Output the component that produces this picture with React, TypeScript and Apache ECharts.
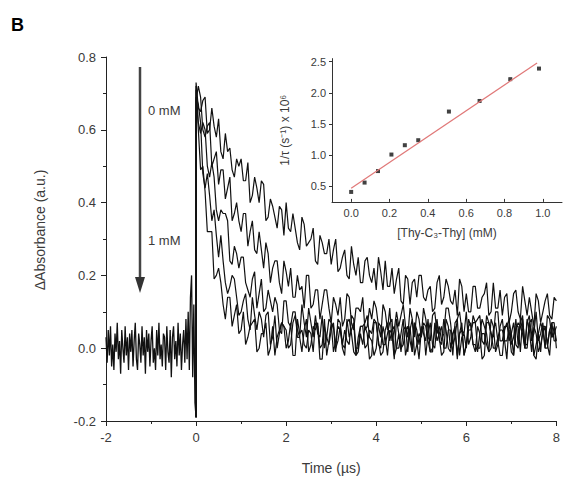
import React, { useEffect, useRef } from "react";
import * as echarts from "echarts";

// ---- main panel: transient absorption traces (time in µs) ----
const baseStart = -2.0;
const baseStep = 0.025;
const baseline = [
  0.03, -0.04, 0.05, -0.02, 0.06, -0.05, 0.01, -0.06, 0.04, -0.01,
  0.07, -0.03, 0.02, -0.07, 0.05, 0.0, -0.04, 0.06, -0.02, 0.03,
  -0.06, 0.04, -0.01, 0.05, -0.05, 0.02, 0.07, -0.03, -0.06, 0.04,
  0.01, -0.04, 0.06, -0.02, 0.03, -0.07, 0.05, -0.01, 0.04, -0.05,
  0.02, 0.06, -0.04, 0.0, -0.06, 0.05, -0.02, 0.07, -0.03, 0.01,
  -0.05, 0.04, 0.03, -0.06, 0.06, -0.01, -0.04, 0.05, -0.08, 0.03,
  0.06, -0.03, 0.02, -0.05, 0.07, -0.02, 0.04, -0.06, 0.01, 0.05,
  -0.04, 0.08, -0.03, 0.1, -0.06, 0.14, 0.2, -0.08, 0.12, -0.15,
  -0.19,
];

// samples at t = 0, 0.1, 0.2, ... 8.0
const traceStep = 0.1;
// samples at t = 0.05, 0.15, ... 7.95
const midOffset = 0.05;

const trace0mM = [
  0.73, 0.65, 0.69, 0.60, 0.61, 0.63, 0.52, 0.54, 0.49, 0.52,
  0.52, 0.46, 0.40, 0.47, 0.40, 0.45, 0.36, 0.39, 0.33, 0.38,
  0.40, 0.32, 0.33, 0.27, 0.34, 0.29, 0.33, 0.23, 0.29, 0.26,
  0.23, 0.30, 0.22, 0.27, 0.19, 0.23, 0.25, 0.18, 0.25, 0.18,
  0.16, 0.21, 0.24, 0.17, 0.15, 0.22, 0.12, 0.19, 0.18, 0.14,
  0.20, 0.13, 0.17, 0.11, 0.20, 0.14, 0.17, 0.12, 0.09, 0.17,
  0.15, 0.10, 0.17, 0.11, 0.15, 0.09, 0.18, 0.11, 0.09, 0.15,
  0.10, 0.16, 0.08, 0.13, 0.14, 0.06, 0.13, 0.10, 0.15, 0.08,
  0.13,
];
const trace0mMMid = [
  0.66, 0.68, 0.59, 0.66, 0.58, 0.54, 0.59, 0.55, 0.47, 0.50,
  0.46, 0.51, 0.42, 0.44, 0.46, 0.35, 0.41, 0.36, 0.39, 0.31,
  0.33, 0.37, 0.29, 0.36, 0.28, 0.30, 0.24, 0.31, 0.26, 0.30,
  0.27, 0.21, 0.25, 0.20, 0.28, 0.20, 0.18, 0.24, 0.20, 0.22,
  0.25, 0.16, 0.17, 0.22, 0.19, 0.13, 0.20, 0.12, 0.19, 0.20,
  0.14, 0.16, 0.10, 0.18, 0.12, 0.19, 0.13, 0.16, 0.19, 0.10,
  0.10, 0.17, 0.11, 0.14, 0.18, 0.10, 0.11, 0.16, 0.14, 0.07,
  0.15, 0.10, 0.17, 0.09, 0.10, 0.15, 0.07, 0.13, 0.09, 0.14,
];
const traceB = [
  0.68, 0.69, 0.58, 0.62, 0.52, 0.45, 0.49, 0.44, 0.35, 0.40,
  0.32, 0.37, 0.32, 0.27, 0.32, 0.22, 0.26, 0.22, 0.24, 0.15,
  0.21, 0.22, 0.14, 0.16, 0.11, 0.20, 0.12, 0.16, 0.12, 0.16,
  0.07, 0.12, 0.14, 0.08, 0.14, 0.05, 0.11, 0.14, 0.06, 0.08,
  0.11, 0.03, 0.10, 0.11, 0.05, 0.06, 0.12, 0.03, 0.08, 0.10,
  0.03, 0.08, 0.02, 0.10, 0.06, 0.04, 0.11, 0.01, 0.08, 0.05,
  0.10, 0.03, 0.07, 0.09, 0.01, 0.07, 0.03, 0.10, 0.02, 0.06,
  0.01, 0.08, 0.07, 0.00, 0.09, 0.04, 0.02, 0.07, 0.09, 0.03,
  0.02,
];
const traceBMid = [
  0.72, 0.60, 0.61, 0.50, 0.54, 0.49, 0.41, 0.47, 0.37, 0.35,
  0.37, 0.28, 0.35, 0.26, 0.27, 0.29, 0.18, 0.24, 0.18, 0.24,
  0.17, 0.14, 0.20, 0.17, 0.20, 0.11, 0.16, 0.08, 0.16, 0.11,
  0.14, 0.09, 0.06, 0.15, 0.07, 0.11, 0.10, 0.05, 0.11, 0.13,
  0.06, 0.12, 0.05, 0.02, 0.10, 0.09, 0.06, 0.11, 0.03, 0.08,
  0.11, 0.03, 0.09, 0.04, 0.02, 0.11, 0.07, 0.03, 0.10, 0.04,
  0.01, 0.09, 0.08, 0.02, 0.09, 0.04, 0.10, 0.02, 0.06, 0.08,
  0.03, 0.01, 0.09, 0.07, 0.02, 0.10, 0.04, 0.00, 0.08, 0.06,
];
const traceC = [
  0.71, 0.59, 0.60, 0.47, 0.47, 0.35, 0.37, 0.35, 0.23, 0.26,
  0.25, 0.18, 0.14, 0.21, 0.15, 0.10, 0.16, 0.10, 0.12, 0.04,
  0.13, 0.06, 0.10, 0.03, 0.07, 0.11, 0.03, 0.04, 0.09, 0.03,
  0.07, -0.01, 0.07, 0.05, 0.01, 0.08, 0.00, 0.06, 0.09, 0.02,
  0.00, 0.06, 0.01, 0.07, -0.02, 0.04, 0.05, -0.01, 0.08, 0.01,
  0.03, 0.06, -0.01, 0.05, 0.02, 0.08, 0.00, 0.04, -0.02, 0.07,
  0.01, 0.05, 0.07, 0.00, 0.04, -0.01, 0.06, 0.01, 0.08, 0.02,
  -0.01, 0.05, 0.06, 0.00, 0.07, -0.02, 0.04, 0.06, 0.01, 0.07,
  0.02,
];
const traceCMid = [
  0.62, 0.62, 0.50, 0.51, 0.38, 0.38, 0.37, 0.24, 0.28, 0.22,
  0.25, 0.16, 0.19, 0.11, 0.19, 0.11, 0.13, 0.14, 0.05, 0.13,
  0.07, 0.10, 0.03, 0.12, 0.03, 0.07, 0.09, 0.03, 0.00, 0.08,
  0.06, 0.08, 0.01, 0.02, 0.09, 0.00, 0.06, 0.07, 0.03, -0.02,
  0.07, 0.01, 0.04, 0.08, 0.00, -0.01, 0.06, 0.05, -0.02, 0.04,
  0.07, 0.02, 0.00, 0.08, 0.01, 0.05, -0.01, 0.06, 0.04, -0.02,
  0.05, 0.07, 0.00, 0.04, 0.01, 0.08, -0.01, 0.06, 0.02, 0.05,
  -0.02, 0.07, 0.04, 0.00, 0.08, 0.01, -0.01, 0.06, 0.05, 0.02,
];
const traceD = [
  0.69, 0.62, 0.44, 0.42, 0.38, 0.25, 0.24, 0.15, 0.20, 0.14,
  0.10, 0.15, 0.05, 0.09, 0.10, 0.03, 0.10, 0.03, 0.00, 0.07,
  0.05, 0.01, 0.09, 0.03, 0.05, -0.01, 0.06, 0.07, 0.01, -0.02,
  0.07, 0.02, 0.05, 0.00, 0.08, -0.01, 0.03, 0.06, 0.01, 0.04,
  0.07, -0.02, 0.05, 0.02, 0.06, 0.00, 0.08, 0.01, -0.01, 0.05,
  0.06, 0.02, -0.01, 0.07, 0.04, 0.00, 0.05, -0.02, 0.08, 0.03,
  0.00, 0.07, 0.01, 0.04, 0.06, -0.01, 0.05, 0.02, -0.02, 0.07,
  0.04, 0.01, 0.08, 0.00, 0.05, 0.06, -0.01, 0.04, 0.01, 0.07,
  0.00,
];
const traceDMid = [
  0.67, 0.48, 0.48, 0.35, 0.31, 0.31, 0.18, 0.17, 0.19, 0.09,
  0.13, 0.08, 0.14, 0.05, 0.08, 0.09, 0.01, 0.09, 0.04, 0.06,
  0.00, 0.07, 0.05, -0.01, 0.08, 0.01, 0.05, 0.00, 0.08, 0.02,
  -0.01, 0.06, 0.01, 0.07, 0.04, -0.02, 0.06, 0.00, 0.05, 0.08,
  0.02, -0.01, 0.07, 0.05, 0.00, 0.04, -0.02, 0.06, 0.07, 0.01,
  0.04, 0.08, -0.01, 0.02, 0.06, 0.00, 0.05, 0.07, -0.02, 0.04,
  0.06, 0.01, -0.01, 0.08, 0.04, 0.00, 0.07, -0.02, 0.05, 0.02,
  0.07, 0.00, 0.05, 0.08, -0.01, 0.04, 0.01, 0.06, -0.02, 0.07,
];
const trace1mM = [
  0.72, 0.49, 0.43, 0.32, 0.19, 0.22, 0.12, 0.14, 0.06, 0.12,
  0.05, 0.01, 0.06, 0.08, 0.00, 0.04, -0.02, 0.06, 0.03, 0.07,
  0.00, 0.07, -0.02, 0.04, 0.01, 0.05, -0.01, 0.06, -0.03, 0.03,
  0.05, 0.00, 0.06, -0.02, 0.03, 0.07, -0.01, 0.01, 0.04, -0.02,
  0.07, 0.00, 0.03, 0.05, -0.03, 0.04, 0.01, 0.06, -0.01, 0.02,
  0.05, -0.02, 0.07, 0.00, 0.03, -0.01, 0.06, 0.04, -0.03, 0.05,
  0.01, 0.06, -0.01, 0.04, -0.02, 0.07, 0.00, 0.03, 0.05, -0.03,
  0.04, 0.06, -0.01, 0.01, 0.07, -0.02, 0.04, 0.05, 0.00, 0.03,
  0.06,
];
const trace1mMMid = [
  0.60, 0.50, 0.32, 0.32, 0.20, 0.18, 0.08, 0.14, 0.09, 0.04,
  0.10, 0.03, 0.07, -0.01, 0.04, 0.07, 0.00, -0.02, 0.05, 0.06,
  0.02, -0.02, 0.08, 0.05, 0.00, 0.04, 0.07, -0.03, 0.06, 0.01,
  0.07, 0.02, 0.00, 0.08, 0.05, -0.02, 0.04, 0.06, -0.03, 0.07,
  0.01, 0.06, -0.02, 0.04, 0.08, 0.00, 0.05, 0.02, 0.07, -0.03,
  0.06, 0.04, 0.01, 0.07, -0.02, 0.08, 0.00, 0.05, 0.04, -0.02,
  0.08, 0.01, 0.06, -0.03, 0.07, 0.04, 0.00, 0.05, 0.02, 0.07,
  -0.02, 0.06, 0.08, 0.01, 0.04, -0.03, 0.07, 0.00, 0.05, 0.04,
];
const traces = [
  [trace0mM, trace0mMMid],
  [traceB, traceBMid],
  [traceC, traceCMid],
  [traceD, traceDMid],
  [trace1mM, trace1mMMid],
];

const mainXTicks = [-2, 0, 2, 4, 6, 8];
const mainYTicks = [-0.2, 0.0, 0.2, 0.4, 0.6, 0.8];

// ---- inset: 1/tau vs concentration ----
const insetConc = [0.0, 0.07, 0.14, 0.21, 0.28, 0.35, 0.51, 0.67, 0.83, 0.98];
const insetRate = [0.41, 0.56, 0.745, 1.01, 1.16, 1.24, 1.7, 1.87, 2.22, 2.39];
const fitConc = [0.0, 0.97];
const fitRate = [0.47, 2.48];
const insetXTicks = [0.0, 0.2, 0.4, 0.6, 0.8, 1.0];
const insetYTicks = [0.5, 1.0, 1.5, 2.0, 2.5];

const FONT = "Liberation Sans, Arial, sans-serif";
const TXT = "#3a3a3a";

export default function App() {
  const ref = useRef<HTMLDivElement>(null);
  useEffect(() => {
    if (!ref.current) return;
    const chart = echarts.init(ref.current, undefined, { renderer: "svg" });
    const baseData = baseline.map((v, i) => [baseStart + i * baseStep, v]);
    const baseEnd = baseline[baseline.length - 1];
    const traceSeries = traces.map(([main, mid]) => {
      const data: number[][] = [[0, baseEnd]];
      main.forEach((v, i) => {
        data.push([i * traceStep, v]);
        if (i < mid.length) data.push([i * traceStep + midOffset, mid[i]]);
      });
      return {
        type: "line",
        xAxisIndex: 0,
        yAxisIndex: 0,
        data,
        symbol: "none",
        lineStyle: { color: "#111", width: 1.2 },
        silent: true,
      };
    });
    const option: any = {
      animation: false,
      backgroundColor: "#fff",
      textStyle: { fontFamily: FONT },
      grid: [
        { left: 106, right: 3, top: 57, bottom: 59, containLabel: false },
        { left: 332, right: 1, top: 58.6, bottom: 278.1, containLabel: false },
      ],
      xAxis: [
        {
          type: "value",
          gridIndex: 0,
          min: -2,
          max: 8,
          interval: 2,
          name: "Time (µs)",
          nameLocation: "middle",
          nameGap: 40,
          nameTextStyle: { fontSize: 14, color: TXT, fontFamily: FONT },
          axisLine: { onZero: false, lineStyle: { color: "#222", width: 1 } },
          axisTick: { show: true, length: 5, lineStyle: { color: "#222" }, customValues: mainXTicks },
          minorTick: { show: true, splitNumber: 2, length: 3, lineStyle: { color: "#222" } },
          splitLine: { show: false },
          axisLabel: {
            customValues: mainXTicks,
            formatter: (v: number) => String(v),
            fontSize: 13,
            color: TXT,
            margin: 10,
            fontFamily: FONT,
          },
        },
        {
          type: "value",
          gridIndex: 1,
          min: -0.1,
          max: 1.1,
          axisLine: { onZero: false, lineStyle: { color: "#333", width: 1 } },
          axisTick: { show: true, length: 3, inside: true, lineStyle: { color: "#333" }, customValues: insetXTicks },
          splitLine: { show: false },
          axisLabel: {
            customValues: insetXTicks,
            formatter: (v: number) => v.toFixed(1),
            fontSize: 11,
            color: TXT,
            margin: 6,
            fontFamily: FONT,
          },
          name: "[Thy-C₃-Thy] (mM)",
          nameLocation: "middle",
          nameGap: 25,
          nameTextStyle: { fontSize: 12, color: TXT, fontFamily: FONT },
        },
      ],
      yAxis: [
        {
          type: "value",
          gridIndex: 0,
          min: -0.2,
          max: 0.8,
          interval: 0.2,
          axisLine: { show: true, onZero: false, lineStyle: { color: "#222", width: 1 } },
          axisTick: { show: true, length: 5, lineStyle: { color: "#222" }, customValues: mainYTicks },
          minorTick: { show: true, splitNumber: 2, length: 3, lineStyle: { color: "#222" } },
          splitLine: { show: false },
          axisLabel: {
            customValues: mainYTicks,
            formatter: (v: number) => v.toFixed(1),
            fontSize: 13,
            color: TXT,
            margin: 10,
            fontFamily: FONT,
          },
        },
        {
          type: "value",
          gridIndex: 1,
          min: 0.25,
          max: 2.55,
          axisLine: { show: true, onZero: false, lineStyle: { color: "#333", width: 1 } },
          axisTick: { show: true, length: 3, lineStyle: { color: "#333" }, customValues: insetYTicks },
          splitLine: { show: false },
          axisLabel: {
            customValues: insetYTicks,
            formatter: (v: number) => v.toFixed(1),
            fontSize: 11,
            color: TXT,
            margin: 6,
            fontFamily: FONT,
          },
          name: "1/τ (s⁻¹) x 10⁶",
          nameLocation: "middle",
          nameGap: 41,
          nameTextStyle: { fontSize: 12, color: TXT, fontFamily: FONT },
        },
      ],
      series: [
        {
          type: "line",
          xAxisIndex: 0,
          yAxisIndex: 0,
          data: baseData,
          symbol: "none",
          lineStyle: { color: "#111", width: 1.3 },
          silent: true,
        },
        ...traceSeries,
        {
          type: "line",
          xAxisIndex: 1,
          yAxisIndex: 1,
          data: fitConc.map((x, i) => [x, fitRate[i]]),
          symbol: "none",
          lineStyle: { color: "#e07878", width: 1.2 },
          silent: true,
        },
        {
          type: "scatter",
          xAxisIndex: 1,
          yAxisIndex: 1,
          data: insetConc.map((x, i) => [x, insetRate[i]]),
          symbol: "rect",
          symbolSize: 4,
          itemStyle: { color: "#111" },
          silent: true,
        },
      ],
      graphic: [
        {
          type: "text",
          left: 11,
          top: 16,
          style: { text: "B", font: `bold 18px ${FONT}`, fill: "#000" },
        },
        {
          type: "text",
          x: 40,
          y: 230,
          rotation: Math.PI / 2,
          style: {
            text: "ΔAbsorbance (a.u.)",
            font: `14px ${FONT}`,
            fill: TXT,
            align: "center",
            verticalAlign: "middle",
          },
        },
        {
          type: "line",
          shape: { x1: 140, y1: 67, x2: 140, y2: 280 },
          style: { stroke: "#444", lineWidth: 2.5 },
        },
        {
          type: "polygon",
          shape: { points: [[135, 277], [145, 277], [140, 293]] },
          style: { fill: "#333" },
        },
        {
          type: "text",
          x: 148,
          y: 110,
          style: { text: "0 mM", font: `13px ${FONT}`, fill: TXT, verticalAlign: "middle" },
        },
        {
          type: "text",
          x: 148,
          y: 240,
          style: { text: "1 mM", font: `13px ${FONT}`, fill: TXT, verticalAlign: "middle" },
        },
      ],
    };
    chart.setOption(option);
    return () => chart.dispose();
  }, []);
  return (
    <div
      ref={ref}
      style={{ position: "fixed", left: 0, top: 0, width: 563, height: 480, background: "#fff" }}
    />
  );
}
